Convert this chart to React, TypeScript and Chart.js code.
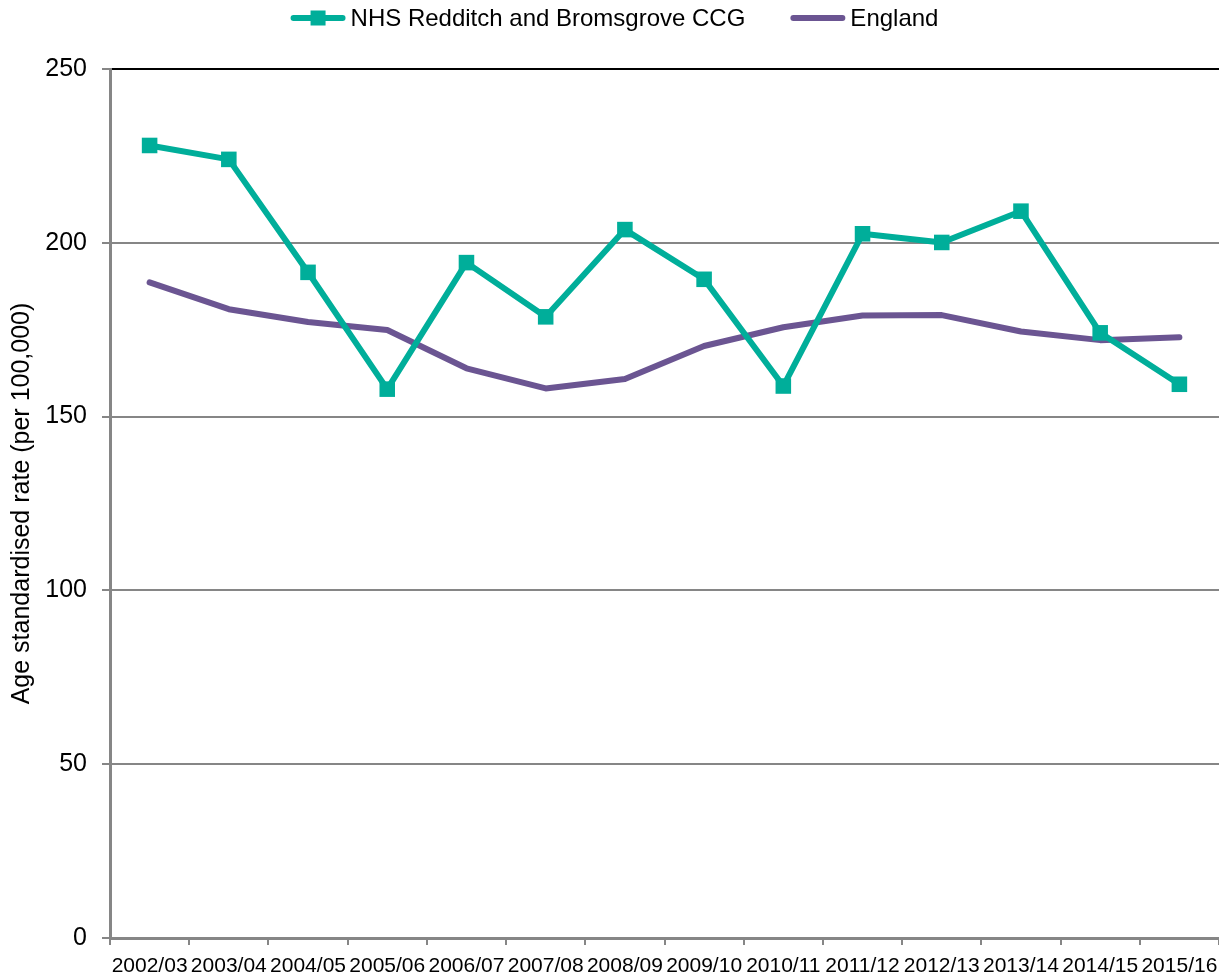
import React, { useEffect, useRef } from "react";
import { Chart, registerables } from "chart.js";

Chart.register(...registerables);

const categories = [
  "2002/03", "2003/04", "2004/05", "2005/06", "2006/07", "2007/08", "2008/09",
  "2009/10", "2010/11", "2011/12", "2012/13", "2013/14", "2014/15", "2015/16",
];
const nhsValues = [228.0, 224.0, 191.5, 157.9, 194.3, 178.7, 203.8, 189.5, 158.8, 202.6, 200.1, 209.1, 174.1, 159.3];
const englandValues = [188.6, 180.9, 177.2, 174.9, 163.9, 158.1, 160.8, 170.3, 175.7, 179.1, 179.2, 174.5, 172.0, 172.8];
const yTickValues = [0, 50, 100, 150, 200, 250];
const seriesNames = ["NHS Redditch and Bromsgrove CCG", "England"];
const yTitle = "Age standardised rate (per 100,000)";

const TEAL = "#00AE9A";
const PURPLE = "#6B5592";
const GRID = "#868686";
const FONT = "'Liberation Sans', Arial, sans-serif";

const legendPlugin = {
  id: "customLegend",
  afterDraw(chart: any) {
    const ctx = chart.ctx;
    ctx.save();
    ctx.font = `24px ${FONT}`;
    ctx.textBaseline = "middle";
    ctx.textAlign = "left";
    const lineLen = 55;
    const gapText = 5;
    const gapItems = 45;
    const items = chart.data.datasets.map((ds: any) => ({
      ds,
      w: lineLen + gapText + ctx.measureText(ds.label).width,
    }));
    const total = items.reduce((s: number, it: any) => s + it.w, 0) + gapItems * (items.length - 1);
    let x = chart.width / 2 + 5 - total / 2;
    const y = 18;
    items.forEach((it: any) => {
      const ds = it.ds;
      ctx.strokeStyle = ds.borderColor;
      ctx.lineWidth = 6;
      ctx.lineCap = "round";
      ctx.beginPath();
      ctx.moveTo(x + 3, y);
      ctx.lineTo(x + lineLen - 3, y);
      ctx.stroke();
      if (ds.pointRadius > 0) {
        const s = 15;
        ctx.fillStyle = ds.borderColor;
        ctx.fillRect(x + lineLen / 2 - s / 2, y - s / 2, s, s);
      }
      ctx.fillStyle = "#000";
      ctx.fillText(ds.label, x + lineLen + gapText, y + 1);
      x += it.w + gapItems;
    });
    ctx.restore();
  },
};

export default function App() {
  const canvasRef = useRef<HTMLCanvasElement | null>(null);

  useEffect(() => {
    document.body.style.margin = "0";
    const canvas = canvasRef.current;
    if (!canvas) return;
    const chart = new Chart(canvas, {
      type: "line",
      data: {
        labels: categories,
        datasets: [
          {
            label: seriesNames[0],
            data: nhsValues,
            borderColor: TEAL,
            backgroundColor: TEAL,
            borderWidth: 6,
            pointStyle: "rect",
            pointRadius: 11,
            pointHoverRadius: 11,
            pointBackgroundColor: TEAL,
            pointBorderColor: TEAL,
            pointBorderWidth: 0,
            tension: 0,
            borderJoinStyle: "round",
          },
          {
            label: seriesNames[1],
            data: englandValues,
            borderColor: PURPLE,
            backgroundColor: PURPLE,
            borderWidth: 6,
            pointRadius: 0,
            pointHoverRadius: 0,
            tension: 0,
            borderCapStyle: "round",
            borderJoinStyle: "round",
          },
        ],
      },
      options: {
        responsive: false,
        animation: false,
        devicePixelRatio: 1,
        layout: { autoPadding: false, padding: { top: 69, left: 0, right: 0, bottom: 0 } },
        plugins: {
          legend: { display: false },
          tooltip: { enabled: false },
          title: { display: false },
        },
        scales: {
          x: {
            type: "category",
            offset: true,
            grid: {
              display: true,
              offset: true,
              drawOnChartArea: false,
              drawTicks: true,
              tickLength: 7,
              color: GRID,
              lineWidth: 2,
            },
            border: { display: true, color: GRID, width: 3 },
            ticks: {
              color: "#000",
              font: { family: FONT, size: 21 },
              padding: 9,
              maxRotation: 0,
              minRotation: 0,
              autoSkip: false,
            },
            afterFit(scale: any) {
              scale.height = 37;
              scale.paddingLeft = 0;
              scale.paddingRight = 0;
            },
          },
          y: {
            min: 0,
            max: 250,
            afterBuildTicks(scale: any) {
              scale.ticks = yTickValues.map((v) => ({ value: v }));
            },
            grid: {
              color: (c: any) => (c.tick && c.tick.value === 250 ? "#000000" : GRID),
              tickColor: GRID,
              lineWidth: 2,
              drawTicks: true,
              tickLength: 8,
            },
            border: { display: true, color: GRID, width: 3 },
            ticks: {
              color: "#000",
              font: { family: FONT, size: 25 },
              padding: 15,
            },
            title: {
              display: true,
              text: yTitle,
              color: "#000",
              font: { family: FONT, size: 25, weight: "normal" },
              padding: { top: 7, bottom: 0 },
            },
            afterFit(scale: any) {
              scale.width = 110;
            },
          },
        },
      },
      plugins: [legendPlugin],
    });
    return () => chart.destroy();
  }, []);

  return (
    <div style={{ position: "absolute", left: 0, top: 0, width: 1219, height: 975 }}>
      <canvas ref={canvasRef} width={1219} height={975} />
    </div>
  );
}
